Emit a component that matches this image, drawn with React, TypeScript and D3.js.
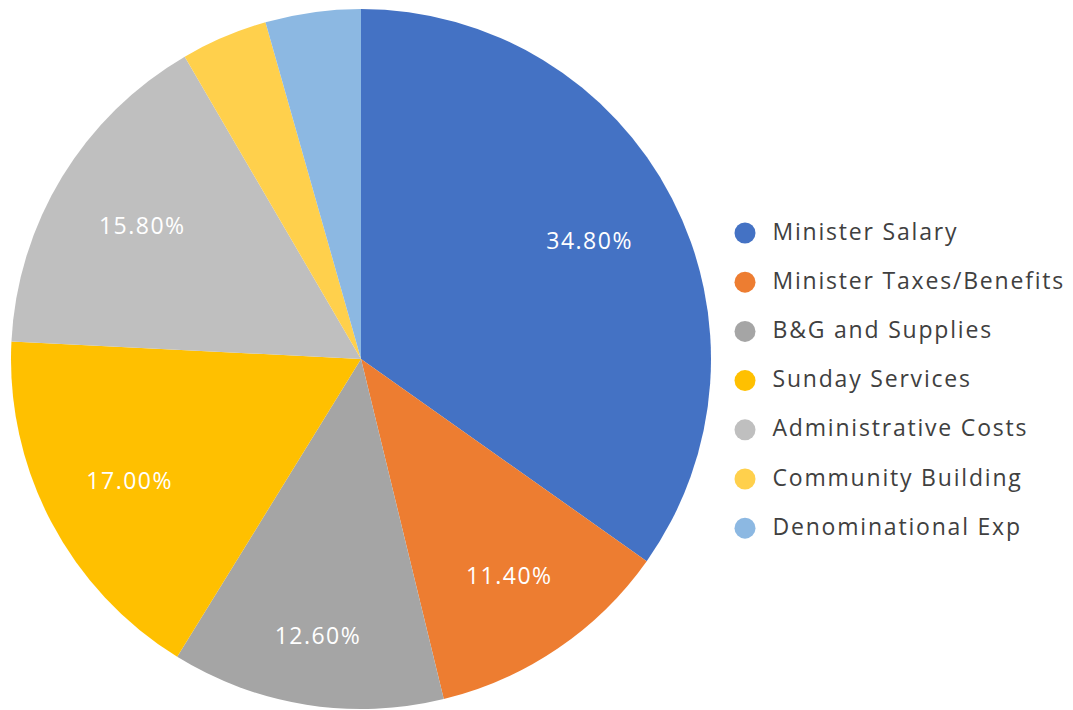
import React from "react";
import * as d3 from "d3";

const categories = [
  "Minister Salary",
  "Minister Taxes/Benefits",
  "B&G and Supplies",
  "Sunday Services",
  "Administrative Costs",
  "Community Building",
  "Denominational Exp",
];
const values = [34.8, 11.4, 12.6, 17.0, 15.8, 4.0, 4.4];
const labels = ["34.80%", "11.40%", "12.60%", "17.00%", "15.80%", "", ""];
const colors = ["#4472C4", "#ED7D31", "#A5A5A5", "#FFC000", "#BFBFBF", "#FFD04C", "#8CB8E2"];

const W = 1073;
const H = 710;
const cx = 361;
const cy = 359;
const R = 350;
const FONT = "'Open Sans', 'Noto Sans', sans-serif";
// label distance from centre as fraction of radius (best-fit placement)
const labelRadius = [0.733, 0.75, 0.8, 0.749, 0.734, 0.74, 0.74];

export default function App() {
  const pie = d3.pie<number>().sort(null).value((d) => d);
  const arcs = pie(values);
  const arc = d3.arc<d3.PieArcDatum<number>>().innerRadius(0).outerRadius(R);
  const legendY = d3.scaleLinear().domain([0, 1]).range([239.5, 288.7]);

  return (
    <svg width={W} height={H} style={{ position: "absolute", left: 0, top: 0, background: "#fff" }}>
      <g transform={`translate(${cx},${cy})`}>
        {arcs.map((a, i) => (
          <path key={i} d={arc(a) || ""} fill={colors[i]} />
        ))}
        {arcs.map((a, i) => {
          if (!labels[i]) return null;
          const lr = R * labelRadius[i];
          const [x, y] = d3.arc<d3.PieArcDatum<number>>().innerRadius(lr).outerRadius(lr).centroid(a);
          return (
            <text key={"l" + i} x={x + 0.75} y={y + 8.3} fill="#fff" fontSize={23} fontFamily={FONT}
              letterSpacing={1.5} textAnchor="middle">
              {labels[i]}
            </text>
          );
        })}
      </g>
      <g>
        {categories.map((c, i) => (
          <g key={c} transform={`translate(0,${legendY(i)})`}>
            <circle cx={745} cy={-6.5} r={10.5} fill={colors[i]} />
            <text x={772.5} y={0} fontSize={23} fontFamily={FONT} fill="#404040" letterSpacing={1.8}>
              {c}
            </text>
          </g>
        ))}
      </g>
    </svg>
  );
}
